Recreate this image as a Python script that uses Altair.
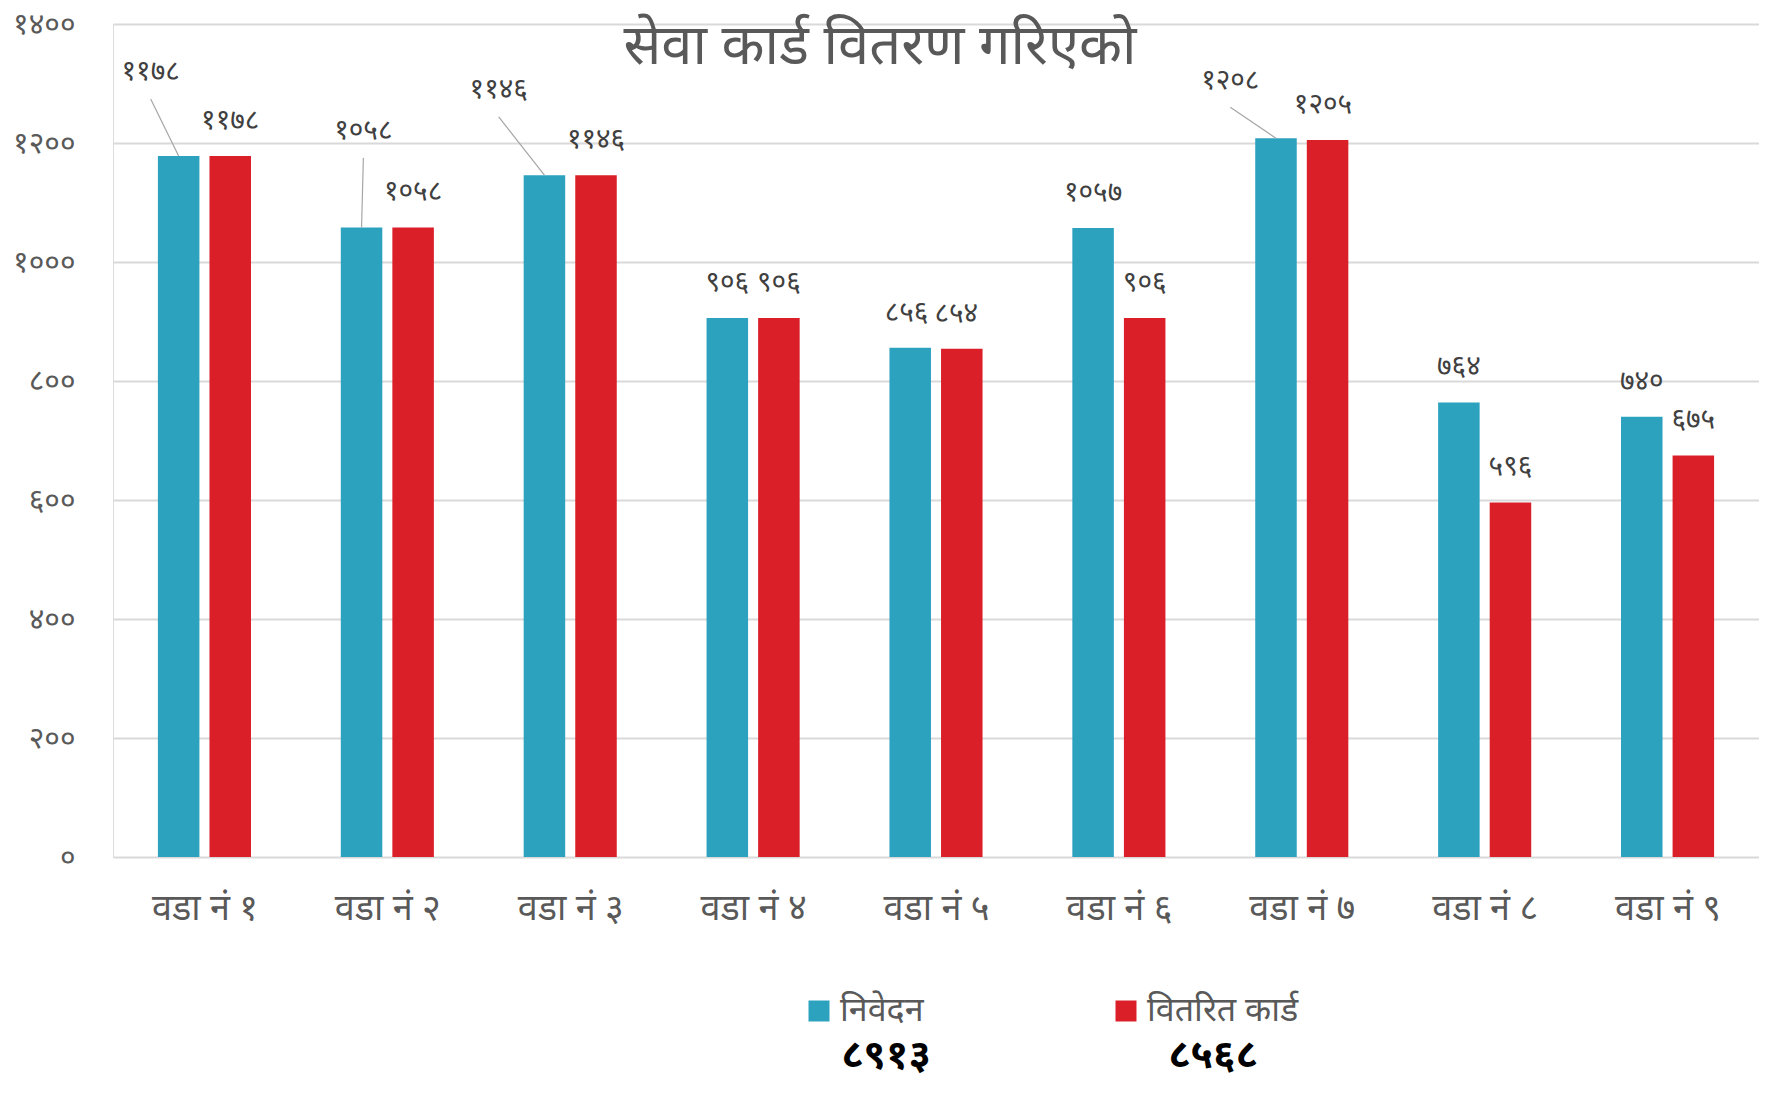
import altair as alt
import pandas as pd

# ---- data ----
wards = ["वडा नं १", "वडा नं २", "वडा नं ३", "वडा नं ४", "वडा नं ५",
         "वडा नं ६", "वडा नं ७", "वडा नं ८", "वडा नं ९"]
series_names = ["निवेदन", "वितरित कार्ड"]
nibedan = [1178, 1058, 1146, 906, 856, 1057, 1208, 764, 740]
bitarit = [1178, 1058, 1146, 906, 854, 906, 1205, 596, 675]
totals = ["८९१३", "८५६८"]
y_ticks = [0, 200, 400, 600, 800, 1000, 1200, 1400]
title_text = "सेवा कार्ड वितरण गरिएको"

# label placement (manually moved labels in the original, in value units / category units)
lift_nibedan = [141, 162, 143, 59, 59, 59, 97, 59, 59]
shift_nibedan = [-0.153, 0.01, -0.25, 0, -0.02, 0, -0.25, 0, 0]
lift_bitarit = [59, 59, 59, 59, 59, 59, 59, 59, 59]
shift_bitarit = [0, 0, 0, 0, -0.03, 0, -0.025, 0, 0]

# ---- styles ----
FONT = "Noto Sans Devanagari, Noto Sans, sans-serif"
BLUE = "#2CA2BF"
RED = "#DA1F28"
GRAY = "#595959"
GRID = "#D9D9D9"
W, H = 1646, 833
HALF_GAP = 0.141
HALF_BAR = 0.1135

DEV = str.maketrans("0123456789", "०१२३४५६७८९")


def dev(n):
    return str(n).translate(DEV)


rows = []
for s_i, (name, vals, lifts, shifts) in enumerate([
        (series_names[0], nibedan, lift_nibedan, shift_nibedan),
        (series_names[1], bitarit, lift_bitarit, shift_bitarit)]):
    for i, v in enumerate(vals):
        rows.append({"ward": i, "series": name, "s": s_i, "value": v,
                     "label": dev(v), "lift": lifts[i], "shift": shifts[i]})
df = pd.DataFrame(rows)

base = alt.Chart(df).transform_calculate(
    xc=f"datum.ward + (datum.s == 0 ? -{HALF_GAP} : {HALF_GAP})",
    x0=f"datum.ward + (datum.s == 0 ? -{HALF_GAP} : {HALF_GAP}) - {HALF_BAR}",
    x1=f"datum.ward + (datum.s == 0 ? -{HALF_GAP} : {HALF_GAP}) + {HALF_BAR}",
    lx=f"datum.ward + (datum.s == 0 ? -{HALF_GAP} : {HALF_GAP}) + datum.shift",
    ly="datum.value + datum.lift",
    ll="datum.value + datum.lift - 45",
    zero="0",
)

xscale = alt.Scale(domain=[-0.5, 8.5], nice=False, zero=False)
yscale = alt.Scale(domain=[0, 1400], nice=False)

ward_arr = "[" + ",".join("'" + w + "'" for w in wards) + "]"
ytick_arr = "[" + ",".join("'" + dev(t) + "'" for t in y_ticks) + "]"

bars = base.mark_bar(stroke=None).encode(
    x=alt.X("x0:Q", scale=xscale,
            axis=alt.Axis(values=list(range(9)), labelExpr=f"{ward_arr}[datum.value]",
                          title=None, grid=False, ticks=False, tickSize=0, domain=False,
                          labelFont=FONT, labelFontSize=36, labelColor=GRAY,
                          labelBaseline="middle", labelPadding=51, labelFlush=False)),
    x2="x1:Q",
    y=alt.Y("value:Q", scale=yscale,
            axis=alt.Axis(values=y_ticks, labelExpr=f"{ytick_arr}[datum.value/200]",
                          title=None, grid=True, gridColor=GRID, gridWidth=2,
                          ticks=False, tickSize=0, domain=False,
                          labelFont=FONT, labelFontSize=30, labelColor=GRAY,
                          labelPadding=38)),
    y2="zero:Q",
    color=alt.Color("series:N",
                    scale=alt.Scale(domain=series_names, range=[BLUE, RED]),
                    legend=alt.Legend(title=None, orient="none", legendX=689, legendY=970,
                                      direction="horizontal", symbolType="square",
                                      symbolSize=441, symbolStrokeWidth=0,
                                      labelFont=FONT, labelFontSize=34, labelColor=GRAY,
                                      labelOffset=4, columnPadding=185)),
)

leaders = base.transform_filter("datum.lift > 80").mark_rule(
    color="#A6A6A6", strokeWidth=1.2).encode(
    x="xc:Q", y="value:Q", x2="lx:Q", y2="ll:Q")

labels = base.mark_text(font=FONT, fontSize=28, color="#404040",
                        baseline="middle", align="center").encode(
    x="lx:Q", y="ly:Q", text="label:N")

title = alt.Chart(alt.Data(values=[{"t": title_text}])).mark_text(
    font=FONT, fontSize=56, fontWeight="normal", color=GRAY,
    align="center", baseline="middle").encode(
    x=alt.value(767), y=alt.value(23), text="t:N")

tot1 = alt.Chart(alt.Data(values=[{"t": totals[0]}])).mark_text(
    font=FONT, fontSize=40, fontWeight="bold", color="#000000",
    align="center", baseline="middle").encode(
    x=alt.value(773), y=alt.value(1032), text="t:N")
tot2 = alt.Chart(alt.Data(values=[{"t": totals[1]}])).mark_text(
    font=FONT, fontSize=40, fontWeight="bold", color="#000000",
    align="center", baseline="middle").encode(
    x=alt.value(1100), y=alt.value(1032), text="t:N")

chart = alt.layer(bars, leaders, labels, title, tot1, tot2).properties(
    width=W, height=H,
    autosize=alt.AutoSizeParams(type="none"),
    padding={"left": 105, "top": 16, "right": 0, "bottom": 230},
).configure_view(stroke=None).configure(background="white")

chart.save("out.html", embed_options={"renderer": "svg", "actions": False})
